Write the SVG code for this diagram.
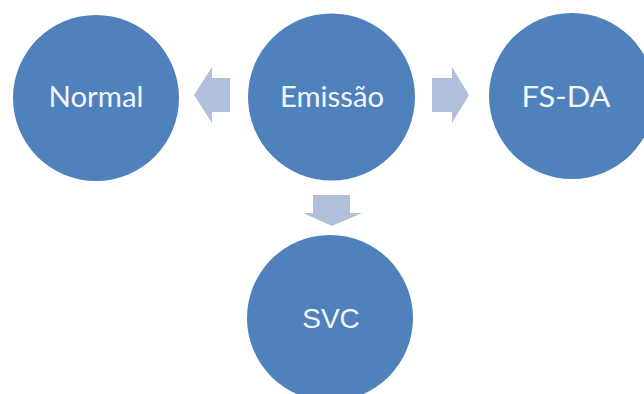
<svg xmlns="http://www.w3.org/2000/svg" width="644" height="394" viewBox="0 0 644 394">
<style>
.node{fill:#4F81BD;}
.arr{fill:#B0C0DB;}
.lbl{fill:#F2F6FB;font-family:Lato,"Open Sans","Liberation Sans",sans-serif;font-size:29px;text-anchor:middle;}
.lbl2{fill:#F2F6FB;font-family:"Liberation Sans",Arial,sans-serif;font-size:28px;text-anchor:middle;}
</style>
<rect width="644" height="394" fill="#FFFFFF"/>
<g id="connectors">
<polygon class="arr" points="194,95 212,67 212,78 230,78 230,112 212,112 212,123"/>
<polygon class="arr" points="469,95 452,67 452,78 432,78 432,112 452,112 452,123"/>
<polygon class="arr" points="313,195 350,195 350,213 362,213 332,226 303,213 313,213"/>
</g>
<g id="node-normal">
<circle class="node" cx="96" cy="98" r="83"/>
<text class="lbl" x="96" y="107" textLength="95" lengthAdjust="spacingAndGlyphs">Normal</text>
</g>
<g id="node-emissao">
<circle class="node" cx="331.5" cy="97" r="83.5"/>
<text class="lbl" x="332" y="107" textLength="104" lengthAdjust="spacingAndGlyphs">Emissão</text>
</g>
<g id="node-fsda">
<circle class="node" cx="572" cy="96" r="83"/>
<text class="lbl" x="566" y="107" textLength="89" lengthAdjust="spacingAndGlyphs">FS-DA</text>
</g>
<g id="node-svc">
<circle class="node" cx="330" cy="318" r="83"/>
<text class="lbl2" x="331" y="328">SVC</text>
</g>
</svg>
